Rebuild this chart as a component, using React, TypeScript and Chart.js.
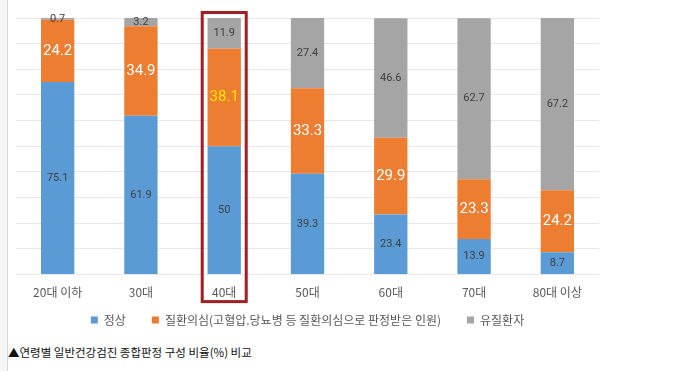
import React, { useEffect, useRef } from "react";
import { Chart, registerables } from "chart.js";

Chart.register(...registerables);

const categories = ["20대 이하", "30대", "40대", "50대", "60대", "70대", "80대 이상"];
const normal = [75.1, 61.9, 50, 39.3, 23.4, 13.9, 8.7];
const suspect = [24.2, 34.9, 38.1, 33.3, 29.9, 23.3, 24.2];
const disease = [0.7, 3.2, 11.9, 27.4, 46.6, 62.7, 67.2];
const seriesNames = ["정상", "질환의심(고혈압.당뇨병 등 질환의심으로 판정받은 인원)", "유질환자"];
const highlightIndex = 2;
const caption = "▲연령별 일반건강검진 종합판정 구성 비율(%) 비교";

const legendReduce = 30;
const legendShift = 23;

const legendPatch = {
  id: "legendPatch",
  afterInit(chart: any) {
    const lg = chart.legend;
    if (!lg || lg.__patched) return;
    lg.__patched = true;
    const origFit = lg.fit.bind(lg);
    lg.fit = function () {
      origFit();
      this.height = this.height - legendReduce;
    };
    lg.draw = function () {
      if (!this.options.display) return;
      const ctx = this.ctx;
      ctx.save();
      ctx.translate(0, -legendShift);
      this._draw();
      ctx.restore();
    };
  },
};

const labelPlugin = {
  id: "segLabels",
  afterDatasetsDraw(chart: any) {
    const ctx = chart.ctx;
    ctx.save();
    ctx.textAlign = "center";
    ctx.textBaseline = "middle";
    chart.data.datasets.forEach((ds: any, di: number) => {
      const meta = chart.getDatasetMeta(di);
      meta.data.forEach((bar: any, i: number) => {
        const v = ds.data[i];
        const yc = (bar.y + bar.base) / 2;
        if (di === 1) {
          ctx.font = "15px 'Roboto', 'Noto Sans CJK KR', sans-serif";
          ctx.fillStyle = i === highlightIndex ? "#ffe600" : "#ffffff";
        } else {
          ctx.font = "11px 'Roboto', 'Noto Sans CJK KR', sans-serif";
          ctx.fillStyle = "#404040";
        }
        ctx.fillText(String(v), bar.x, yc);
      });
    });
    const xs = chart.scales.x;
    const ys = chart.scales.y;
    const cx = xs.getPixelForValue(highlightIndex);
    const half = 22;
    ctx.strokeStyle = "#a31d22";
    ctx.lineWidth = 3;
    const top = ys.getPixelForValue(100) - 5.5;
    const bottom = ys.getPixelForValue(0) + 27;
    ctx.strokeRect(cx - half, top, half * 2, bottom - top);
    ctx.restore();
  },
};

export default function App() {
  const ref = useRef<HTMLCanvasElement>(null);
  useEffect(() => {
    if (!ref.current) return;
    const chart = new Chart(ref.current, {
      type: "bar",
      data: {
        labels: categories,
        datasets: [
          { label: seriesNames[0], data: normal, backgroundColor: "#5b9bd5" },
          { label: seriesNames[1], data: suspect, backgroundColor: "#ed7d31" },
          { label: seriesNames[2], data: disease, backgroundColor: "#a5a5a5" },
        ],
      },
      options: {
        animation: false,
        responsive: false,
        maintainAspectRatio: false,
        datasets: { bar: { categoryPercentage: 1, barPercentage: 0.4 } } as any,
        layout: { padding: { left: 16, right: 81, top: 18, bottom: 0 } },
        plugins: {
          legend: {
            position: "bottom",
            labels: {
              boxWidth: 7,
              boxHeight: 7,
              padding: 26,
              color: "#595959",
              font: { size: 12, family: "'Noto Sans CJK KR', sans-serif" },
            },
          },
          tooltip: { enabled: false },
        },
        scales: {
          x: {
            stacked: true,
            grid: { display: false, drawTicks: false },
            border: { display: false },
            ticks: {
              color: "#595959",
              padding: 11,
              font: { size: 12, family: "'Noto Sans CJK KR', sans-serif" },
            },
          },
          y: {
            stacked: true,
            min: 0,
            max: 100,
            ticks: { display: false, stepSize: 10 },
            grid: { color: "#e8e8e8", lineWidth: 1, drawTicks: false },
            border: { display: false },
          },
        },
      },
      plugins: [legendPatch, labelPlugin],
    });
    return () => chart.destroy();
  }, []);
  return (
    <div style={{ position: "fixed", left: 0, top: 0, width: 680, height: 371, background: "#fff" }}>
      <div style={{ position: "absolute", left: 0, top: 0, width: 7, height: 371, background: "#f5f5f5" }} />
      <div style={{ position: "absolute", left: 7, top: 0, width: 1, height: 371, background: "#d9d9d9" }} />
      <canvas ref={ref} width={680} height={329} style={{ display: "block", position: "absolute", left: 0, top: 0 }} />
      <div
        style={{
          position: "absolute",
          left: 8,
          top: 343,
          fontFamily: "'Noto Sans CJK KR', sans-serif",
          fontSize: 11.5,
          lineHeight: "18px",
          color: "#111",
          whiteSpace: "nowrap",
        }}
      >
        {caption}
      </div>
    </div>
  );
}
